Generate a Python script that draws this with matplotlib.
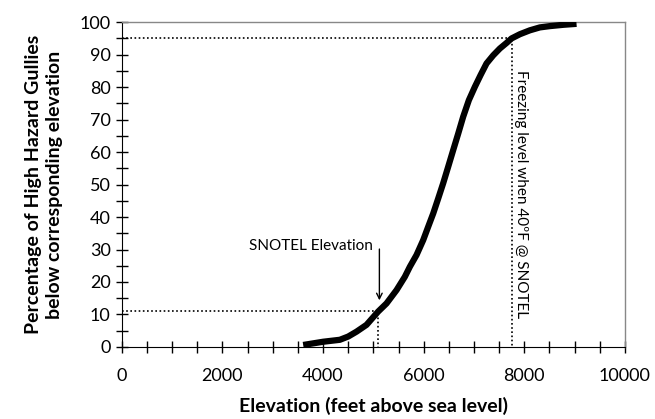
import matplotlib
matplotlib.use('Agg')
import matplotlib.pyplot as plt
from matplotlib.ticker import MultipleLocator

# cumulative curve
elev = [3605, 4003, 4334, 4500, 4665, 4864, 5096, 5262, 5461, 5626, 5726,
        5858, 5991, 6090, 6190, 6289, 6388, 6488, 6587, 6687, 6786, 6899,
        7018, 7131, 7250, 7383, 7515, 7647, 7747, 7913, 8111, 8310, 8509,
        8774, 9039]
pct = [0.6, 1.6, 2.2, 3.2, 4.7, 6.8, 10.9, 13.4, 17.5, 21.6, 24.7,
       28.3, 32.9, 37.0, 41.1, 45.7, 50.4, 55.5, 60.6, 65.7, 70.9, 76.0,
       80.1, 83.7, 87.3, 89.8, 91.9, 93.6, 95.0, 96.3, 97.5, 98.4, 98.8,
       99.2, 99.5]

snotel_elev = 5100
snotel_pct = 11
freeze_elev = 7750
freeze_pct = 95

plt.rcParams['font.family'] = ['Lato', 'DejaVu Sans']

fig = plt.figure(figsize=(6.55, 4.19), dpi=100)
ax = fig.add_axes([0.186, 0.172, 0.768, 0.775])

ax.plot(elev, pct, color='black', lw=4.5, solid_capstyle='butt',
        solid_joinstyle='round', zorder=3)

# dotted reference lines
ax.plot([0, snotel_elev, snotel_elev], [snotel_pct, snotel_pct, 0],
        color='black', lw=1.2, ls=(0, (1, 1.5)))
ax.plot([0, freeze_elev, freeze_elev], [freeze_pct, freeze_pct, 0],
        color='black', lw=1.2, ls=(0, (1, 1.5)))

ax.annotate('', xy=(5120, 13.5), xytext=(5120, 31),
            arrowprops=dict(arrowstyle='->', color='black', lw=1))
ax.text(5000, 31, 'SNOTEL Elevation', ha='right', va='center', fontsize=11)
ax.text(7930, 47, 'Freezing level when 40ºF @ SNOTEL', rotation=-90,
        ha='center', va='center', fontsize=11)

ax.set_xlim(0, 10000)
ax.set_ylim(0, 100)
ax.xaxis.set_major_locator(MultipleLocator(2000))
ax.xaxis.set_minor_locator(MultipleLocator(500))
ax.yaxis.set_major_locator(MultipleLocator(10))
ax.yaxis.set_minor_locator(MultipleLocator(5))
ax.tick_params(which='both', direction='inout', length=9, width=1, labelsize=13)
ax.tick_params(axis='x', pad=11)

for s in ['top', 'right']:
    ax.spines[s].set_color('#888888')
    ax.spines[s].set_linewidth(1)

ax.set_xlabel('Elevation (feet above sea level)', fontsize=14, fontweight='bold', labelpad=9)
ax.set_ylabel('Percentage of High Hazard Gullies\nbelow corresponding elevation',
              fontsize=14, fontweight='bold', labelpad=12, linespacing=1.3)

fig.savefig('out.png', dpi=100)
